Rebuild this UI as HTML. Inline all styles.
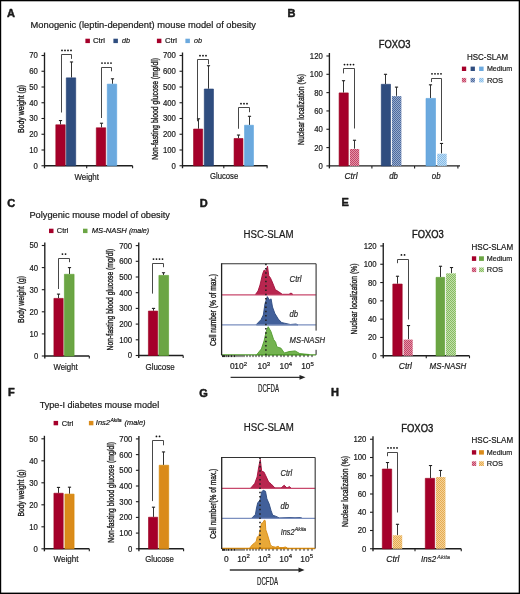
<!DOCTYPE html>
<html><head><meta charset="utf-8"><style>
html,body{margin:0;padding:0;background:#fff;}
#root{position:relative;width:520px;height:594px;overflow:hidden;background:#fff;}
svg text{stroke:#1a1a1a;stroke-width:0.2px;} svg text.vt{stroke-width:0.35px;} svg text.t{stroke-width:0.4px;} svg text.b{stroke-width:0.5px;} svg text.sup{stroke-width:0.1px;}
#frame{position:absolute;left:0;top:0;width:520px;height:594px;box-sizing:border-box;border-top:1px solid #000;border-left:1px solid #000;border-right:2px solid #000;border-bottom:2px solid #000;pointer-events:none;}
</style></head><body><div id="root">
<svg width="520" height="594" viewBox="0 0 520 594" style="position:absolute;left:0;top:0;will-change:transform">
<defs>
<pattern id="pr" width="2" height="2" patternUnits="userSpaceOnUse"><rect width="2" height="2" fill="#e493a8"/><rect width="1" height="1" fill="#c24466"/><rect x="1" y="1" width="1" height="1" fill="#c24466"/></pattern>
<pattern id="pn" width="2" height="2" patternUnits="userSpaceOnUse"><rect width="2" height="2" fill="#98abcc"/><rect width="1" height="1" fill="#4d6a9e"/><rect x="1" y="1" width="1" height="1" fill="#4d6a9e"/></pattern>
<pattern id="pb" width="2" height="2" patternUnits="userSpaceOnUse"><rect width="2" height="2" fill="#c0dcf4"/><rect width="1" height="1" fill="#86bde8"/><rect x="1" y="1" width="1" height="1" fill="#86bde8"/></pattern>
<pattern id="pg" width="2" height="2" patternUnits="userSpaceOnUse"><rect width="2" height="2" fill="#c2e0ac"/><rect width="1" height="1" fill="#88bc62"/><rect x="1" y="1" width="1" height="1" fill="#88bc62"/></pattern>
<pattern id="po" width="2" height="2" patternUnits="userSpaceOnUse"><rect width="2" height="2" fill="#f4d29a"/><rect width="1" height="1" fill="#e6ac50"/><rect x="1" y="1" width="1" height="1" fill="#e6ac50"/></pattern>
</defs>
<g font-family='"Liberation Sans", sans-serif' fill="#1a1a1a" stroke-linejoin="round">
<text x="7" y="17" font-size="11" text-anchor="start" font-weight="bold" class="b">A</text>
<text x="30.5" y="28" font-size="9" text-anchor="start" textLength="225.5" lengthAdjust="spacingAndGlyphs">Monogenic (leptin-dependent) mouse model of obesity</text>
<rect x="85.40" y="38.70" width="4.50" height="4.40" fill="#a5002a"/>
<text x="93" y="43.1" font-size="8" text-anchor="start" textLength="12" lengthAdjust="spacingAndGlyphs">Ctrl</text>
<rect x="113.40" y="38.70" width="4.50" height="4.40" fill="#2f4d7f"/>
<text x="122" y="43.1" font-size="8" text-anchor="start" font-style="italic" textLength="8" lengthAdjust="spacingAndGlyphs">db</text>
<rect x="156.90" y="38.70" width="4.50" height="4.40" fill="#a5002a"/>
<text x="165" y="43.1" font-size="8" text-anchor="start" textLength="12" lengthAdjust="spacingAndGlyphs">Ctrl</text>
<rect x="185.40" y="38.70" width="4.50" height="4.40" fill="#6ba9de"/>
<text x="194" y="43.1" font-size="8" text-anchor="start" font-style="italic" textLength="8" lengthAdjust="spacingAndGlyphs">ob</text>
<line x1="44.5" y1="52.5" x2="44.5" y2="168.25" stroke="#1e1e1e" stroke-width="1.35"/>
<line x1="44.0" y1="165.75" x2="132.6" y2="165.75" stroke="#1e1e1e" stroke-width="1.4"/>
<line x1="86.7" y1="165.75" x2="86.7" y2="168.25" stroke="#1e1e1e" stroke-width="1.1"/>
<line x1="132.6" y1="165.75" x2="132.6" y2="168.25" stroke="#1e1e1e" stroke-width="1.1"/>
<line x1="41.5" y1="165.75" x2="44.5" y2="165.75" stroke="#1e1e1e" stroke-width="1.1"/>
<text x="37.90" y="168.70" font-size="8.4" text-anchor="end" textLength="4.32" lengthAdjust="spacingAndGlyphs">0</text>
<line x1="41.5" y1="150.0" x2="44.5" y2="150.0" stroke="#1e1e1e" stroke-width="1.1"/>
<text x="37.90" y="152.95" font-size="8.4" text-anchor="end" textLength="8.64" lengthAdjust="spacingAndGlyphs">10</text>
<line x1="41.5" y1="134.25" x2="44.5" y2="134.25" stroke="#1e1e1e" stroke-width="1.1"/>
<text x="37.90" y="137.20" font-size="8.4" text-anchor="end" textLength="8.64" lengthAdjust="spacingAndGlyphs">20</text>
<line x1="41.5" y1="118.5" x2="44.5" y2="118.5" stroke="#1e1e1e" stroke-width="1.1"/>
<text x="37.90" y="121.45" font-size="8.4" text-anchor="end" textLength="8.64" lengthAdjust="spacingAndGlyphs">30</text>
<line x1="41.5" y1="102.75" x2="44.5" y2="102.75" stroke="#1e1e1e" stroke-width="1.1"/>
<text x="37.90" y="105.70" font-size="8.4" text-anchor="end" textLength="8.64" lengthAdjust="spacingAndGlyphs">40</text>
<line x1="41.5" y1="87.0" x2="44.5" y2="87.0" stroke="#1e1e1e" stroke-width="1.1"/>
<text x="37.90" y="89.95" font-size="8.4" text-anchor="end" textLength="8.64" lengthAdjust="spacingAndGlyphs">50</text>
<line x1="41.5" y1="71.25" x2="44.5" y2="71.25" stroke="#1e1e1e" stroke-width="1.1"/>
<text x="37.90" y="74.20" font-size="8.4" text-anchor="end" textLength="8.64" lengthAdjust="spacingAndGlyphs">60</text>
<line x1="41.5" y1="55.5" x2="44.5" y2="55.5" stroke="#1e1e1e" stroke-width="1.1"/>
<text x="37.90" y="58.45" font-size="8.4" text-anchor="end" textLength="8.64" lengthAdjust="spacingAndGlyphs">70</text>
<line x1="60.50" y1="120.55" x2="60.50" y2="124.48" stroke="#333" stroke-width="1.0"/>
<line x1="58.90" y1="120.55" x2="62.10" y2="120.55" stroke="#222" stroke-width="1.1"/>
<rect x="55.80" y="124.78" width="9.40" height="40.97" fill="#a5002a" stroke="#98001f" stroke-width="0.6"/>
<line x1="71.50" y1="61.96" x2="71.50" y2="77.55" stroke="#333" stroke-width="1.0"/>
<line x1="69.90" y1="61.96" x2="73.10" y2="61.96" stroke="#222" stroke-width="1.1"/>
<rect x="66.30" y="77.85" width="9.40" height="87.90" fill="#2f4d7f" stroke="#1f3a70" stroke-width="0.6"/>
<line x1="101.50" y1="123.22" x2="101.50" y2="127.48" stroke="#333" stroke-width="1.0"/>
<line x1="99.90" y1="123.22" x2="103.10" y2="123.22" stroke="#222" stroke-width="1.1"/>
<rect x="96.30" y="127.78" width="9.40" height="37.97" fill="#a5002a" stroke="#98001f" stroke-width="0.6"/>
<line x1="112.50" y1="78.81" x2="112.50" y2="83.85" stroke="#333" stroke-width="1.0"/>
<line x1="110.90" y1="78.81" x2="114.10" y2="78.81" stroke="#222" stroke-width="1.1"/>
<rect x="107.30" y="84.15" width="9.40" height="81.60" fill="#6ba9de" stroke="#5aa2de" stroke-width="0.6"/>
<path d="M61.5,112.5 V54.5 H71.5 V58.9" fill="none" stroke="#333" stroke-width="0.9"/>
<circle cx="62.00" cy="50.40" r="0.9" fill="#111"/>
<circle cx="65.00" cy="50.40" r="0.9" fill="#111"/>
<circle cx="68.00" cy="50.40" r="0.9" fill="#111"/>
<circle cx="71.00" cy="50.40" r="0.9" fill="#111"/>
<path d="M101.5,118 V67.5 H111.5 V71.3" fill="none" stroke="#333" stroke-width="0.9"/>
<circle cx="102.00" cy="63.10" r="0.9" fill="#111"/>
<circle cx="105.00" cy="63.10" r="0.9" fill="#111"/>
<circle cx="108.00" cy="63.10" r="0.9" fill="#111"/>
<circle cx="111.00" cy="63.10" r="0.9" fill="#111"/>
<text class="vt" transform="translate(21,109) rotate(-90)" x="0" y="3.24" font-size="9" text-anchor="middle" textLength="48" lengthAdjust="spacingAndGlyphs">Body weight (g)</text>
<text x="86.7" y="179.5" font-size="9" text-anchor="middle" textLength="24.6" lengthAdjust="spacingAndGlyphs">Weight</text>
<line x1="182.5" y1="52.5" x2="182.5" y2="168.25" stroke="#1e1e1e" stroke-width="1.35"/>
<line x1="182.0" y1="165.75" x2="267.5" y2="165.75" stroke="#1e1e1e" stroke-width="1.4"/>
<line x1="223.8" y1="165.75" x2="223.8" y2="168.25" stroke="#1e1e1e" stroke-width="1.1"/>
<line x1="267.1" y1="165.75" x2="267.1" y2="168.25" stroke="#1e1e1e" stroke-width="1.1"/>
<line x1="179.5" y1="165.75" x2="182.5" y2="165.75" stroke="#1e1e1e" stroke-width="1.1"/>
<text x="175.90" y="168.70" font-size="8.4" text-anchor="end" textLength="4.32" lengthAdjust="spacingAndGlyphs">0</text>
<line x1="179.5" y1="150.0" x2="182.5" y2="150.0" stroke="#1e1e1e" stroke-width="1.1"/>
<text x="175.90" y="152.95" font-size="8.4" text-anchor="end" textLength="12.96" lengthAdjust="spacingAndGlyphs">100</text>
<line x1="179.5" y1="134.25" x2="182.5" y2="134.25" stroke="#1e1e1e" stroke-width="1.1"/>
<text x="175.90" y="137.20" font-size="8.4" text-anchor="end" textLength="12.96" lengthAdjust="spacingAndGlyphs">200</text>
<line x1="179.5" y1="118.5" x2="182.5" y2="118.5" stroke="#1e1e1e" stroke-width="1.1"/>
<text x="175.90" y="121.45" font-size="8.4" text-anchor="end" textLength="12.96" lengthAdjust="spacingAndGlyphs">300</text>
<line x1="179.5" y1="102.75" x2="182.5" y2="102.75" stroke="#1e1e1e" stroke-width="1.1"/>
<text x="175.90" y="105.70" font-size="8.4" text-anchor="end" textLength="12.96" lengthAdjust="spacingAndGlyphs">400</text>
<line x1="179.5" y1="87.0" x2="182.5" y2="87.0" stroke="#1e1e1e" stroke-width="1.1"/>
<text x="175.90" y="89.95" font-size="8.4" text-anchor="end" textLength="12.96" lengthAdjust="spacingAndGlyphs">500</text>
<line x1="179.5" y1="71.25" x2="182.5" y2="71.25" stroke="#1e1e1e" stroke-width="1.1"/>
<text x="175.90" y="74.20" font-size="8.4" text-anchor="end" textLength="12.96" lengthAdjust="spacingAndGlyphs">600</text>
<line x1="179.5" y1="55.5" x2="182.5" y2="55.5" stroke="#1e1e1e" stroke-width="1.1"/>
<text x="175.90" y="58.45" font-size="8.4" text-anchor="end" textLength="12.96" lengthAdjust="spacingAndGlyphs">700</text>
<line x1="198.50" y1="118.81" x2="198.50" y2="128.74" stroke="#333" stroke-width="1.0"/>
<line x1="196.90" y1="118.81" x2="200.10" y2="118.81" stroke="#222" stroke-width="1.1"/>
<rect x="193.55" y="129.04" width="9.15" height="36.71" fill="#a5002a" stroke="#98001f" stroke-width="0.6"/>
<line x1="208.50" y1="65.74" x2="208.50" y2="88.73" stroke="#333" stroke-width="1.0"/>
<line x1="206.90" y1="65.74" x2="210.10" y2="65.74" stroke="#222" stroke-width="1.1"/>
<rect x="204.30" y="89.03" width="9.15" height="76.72" fill="#2f4d7f" stroke="#1f3a70" stroke-width="0.6"/>
<line x1="238.50" y1="135.04" x2="238.50" y2="138.19" stroke="#333" stroke-width="1.0"/>
<line x1="236.90" y1="135.04" x2="240.10" y2="135.04" stroke="#222" stroke-width="1.1"/>
<rect x="234.05" y="138.49" width="8.90" height="27.26" fill="#a5002a" stroke="#98001f" stroke-width="0.6"/>
<line x1="249.50" y1="116.30" x2="249.50" y2="124.96" stroke="#333" stroke-width="1.0"/>
<line x1="247.90" y1="116.30" x2="251.10" y2="116.30" stroke="#222" stroke-width="1.1"/>
<rect x="244.55" y="125.26" width="8.90" height="40.49" fill="#6ba9de" stroke="#5aa2de" stroke-width="0.6"/>
<path d="M197.5,121.25 V59.5 H208.5 V64.2" fill="none" stroke="#333" stroke-width="0.9"/>
<circle cx="200.00" cy="55.70" r="0.9" fill="#111"/>
<circle cx="203.00" cy="55.70" r="0.9" fill="#111"/>
<circle cx="206.00" cy="55.70" r="0.9" fill="#111"/>
<path d="M238.5,128.75 V107.5 H249.5 V112.2" fill="none" stroke="#333" stroke-width="0.9"/>
<circle cx="241.00" cy="103.70" r="0.9" fill="#111"/>
<circle cx="244.00" cy="103.70" r="0.9" fill="#111"/>
<circle cx="247.00" cy="103.70" r="0.9" fill="#111"/>
<text class="vt" transform="translate(154.7,108.9) rotate(-90)" x="0" y="3.24" font-size="9" text-anchor="middle" textLength="101.8" lengthAdjust="spacingAndGlyphs">Non-fasting blood glucose (mg/dl)</text>
<text x="224.1" y="178.8" font-size="9" text-anchor="middle" textLength="28.3" lengthAdjust="spacingAndGlyphs">Glucose</text>
<text x="287.5" y="17" font-size="11" text-anchor="start" font-weight="bold" class="b">B</text>
<text x="378.7" y="48" font-size="10" text-anchor="start" textLength="31.7" lengthAdjust="spacingAndGlyphs" class="t">FOXO3</text>
<line x1="329.4" y1="52.980000000000004" x2="329.4" y2="168.4" stroke="#1e1e1e" stroke-width="1.35"/>
<line x1="328.9" y1="165.9" x2="460" y2="165.9" stroke="#1e1e1e" stroke-width="1.4"/>
<line x1="371.9" y1="165.9" x2="371.9" y2="168.4" stroke="#1e1e1e" stroke-width="1.1"/>
<line x1="414.6" y1="165.9" x2="414.6" y2="168.4" stroke="#1e1e1e" stroke-width="1.1"/>
<line x1="457.9" y1="165.9" x2="457.9" y2="168.4" stroke="#1e1e1e" stroke-width="1.1"/>
<line x1="326.4" y1="165.9" x2="329.4" y2="165.9" stroke="#1e1e1e" stroke-width="1.1"/>
<text x="322.80" y="168.85" font-size="8.4" text-anchor="end" textLength="4.32" lengthAdjust="spacingAndGlyphs">0</text>
<line x1="326.4" y1="147.58" x2="329.4" y2="147.58" stroke="#1e1e1e" stroke-width="1.1"/>
<text x="322.80" y="150.53" font-size="8.4" text-anchor="end" textLength="8.64" lengthAdjust="spacingAndGlyphs">20</text>
<line x1="326.4" y1="129.26" x2="329.4" y2="129.26" stroke="#1e1e1e" stroke-width="1.1"/>
<text x="322.80" y="132.21" font-size="8.4" text-anchor="end" textLength="8.64" lengthAdjust="spacingAndGlyphs">40</text>
<line x1="326.4" y1="110.94" x2="329.4" y2="110.94" stroke="#1e1e1e" stroke-width="1.1"/>
<text x="322.80" y="113.89" font-size="8.4" text-anchor="end" textLength="8.64" lengthAdjust="spacingAndGlyphs">60</text>
<line x1="326.4" y1="92.62" x2="329.4" y2="92.62" stroke="#1e1e1e" stroke-width="1.1"/>
<text x="322.80" y="95.57" font-size="8.4" text-anchor="end" textLength="8.64" lengthAdjust="spacingAndGlyphs">80</text>
<line x1="326.4" y1="74.3" x2="329.4" y2="74.3" stroke="#1e1e1e" stroke-width="1.1"/>
<text x="322.80" y="77.25" font-size="8.4" text-anchor="end" textLength="12.96" lengthAdjust="spacingAndGlyphs">100</text>
<line x1="326.4" y1="55.980000000000004" x2="329.4" y2="55.980000000000004" stroke="#1e1e1e" stroke-width="1.1"/>
<text x="322.80" y="58.93" font-size="8.4" text-anchor="end" textLength="12.96" lengthAdjust="spacingAndGlyphs">120</text>
<line x1="343.50" y1="80.71" x2="343.50" y2="92.62" stroke="#333" stroke-width="1.0"/>
<line x1="341.90" y1="80.71" x2="345.10" y2="80.71" stroke="#222" stroke-width="1.1"/>
<rect x="339.10" y="92.92" width="9.20" height="72.98" fill="#a5002a" stroke="#98001f" stroke-width="0.6"/>
<line x1="354.50" y1="140.25" x2="354.50" y2="148.68" stroke="#333" stroke-width="1.0"/>
<line x1="352.90" y1="140.25" x2="356.10" y2="140.25" stroke="#222" stroke-width="1.1"/>
<rect x="349.90" y="148.98" width="9.30" height="16.92" fill="url(#pr)"/>
<line x1="385.50" y1="74.30" x2="385.50" y2="84.01" stroke="#333" stroke-width="1.0"/>
<line x1="383.90" y1="74.30" x2="387.10" y2="74.30" stroke="#222" stroke-width="1.1"/>
<rect x="381.30" y="84.31" width="9.20" height="81.59" fill="#2f4d7f" stroke="#1f3a70" stroke-width="0.6"/>
<line x1="396.50" y1="87.12" x2="396.50" y2="95.83" stroke="#333" stroke-width="1.0"/>
<line x1="394.90" y1="87.12" x2="398.10" y2="87.12" stroke="#222" stroke-width="1.1"/>
<rect x="391.90" y="96.13" width="9.50" height="69.77" fill="url(#pn)"/>
<line x1="430.50" y1="84.83" x2="430.50" y2="98.12" stroke="#333" stroke-width="1.0"/>
<line x1="428.90" y1="84.83" x2="432.10" y2="84.83" stroke="#222" stroke-width="1.1"/>
<rect x="426.00" y="98.42" width="9.50" height="67.48" fill="#6ba9de" stroke="#5aa2de" stroke-width="0.6"/>
<line x1="441.50" y1="143.46" x2="441.50" y2="153.44" stroke="#333" stroke-width="1.0"/>
<line x1="439.90" y1="143.46" x2="443.10" y2="143.46" stroke="#222" stroke-width="1.1"/>
<rect x="437.20" y="153.74" width="9.50" height="12.16" fill="url(#pb)"/>
<path d="M343.5,73.4 V68.5 H354.5 V128.5" fill="none" stroke="#333" stroke-width="0.9"/>
<circle cx="344.50" cy="64.60" r="0.9" fill="#111"/>
<circle cx="347.50" cy="64.60" r="0.9" fill="#111"/>
<circle cx="350.50" cy="64.60" r="0.9" fill="#111"/>
<circle cx="353.50" cy="64.60" r="0.9" fill="#111"/>
<path d="M431.5,82.1 V78.5 H441.5 V141" fill="none" stroke="#333" stroke-width="0.9"/>
<circle cx="432.00" cy="73.80" r="0.9" fill="#111"/>
<circle cx="435.00" cy="73.80" r="0.9" fill="#111"/>
<circle cx="438.00" cy="73.80" r="0.9" fill="#111"/>
<circle cx="441.00" cy="73.80" r="0.9" fill="#111"/>
<text class="vt" transform="translate(300.6,109.5) rotate(-90)" x="0" y="3.24" font-size="9" text-anchor="middle" textLength="71" lengthAdjust="spacingAndGlyphs">Nuclear localization (%)</text>
<text x="351" y="179" font-size="8.5" text-anchor="middle" font-style="italic" textLength="13" lengthAdjust="spacingAndGlyphs">Ctrl</text>
<text x="393.5" y="179" font-size="8.5" text-anchor="middle" font-style="italic" textLength="8.7" lengthAdjust="spacingAndGlyphs">db</text>
<text x="436.2" y="179" font-size="8.5" text-anchor="middle" font-style="italic" textLength="8.7" lengthAdjust="spacingAndGlyphs">ob</text>
<text x="466.9" y="59.75" font-size="8.3" text-anchor="start" textLength="41.2" lengthAdjust="spacingAndGlyphs">HSC-SLAM</text>
<rect x="461.90" y="66.60" width="4.30" height="4.40" fill="#a5002a"/>
<rect x="470.60" y="66.60" width="4.30" height="4.40" fill="#2f4d7f"/>
<rect x="479.10" y="66.60" width="4.50" height="4.40" fill="#6ba9de"/>
<text x="486.9" y="71.25" font-size="7.8" text-anchor="start" textLength="25.3" lengthAdjust="spacingAndGlyphs">Medium</text>
<rect x="461.90" y="77.90" width="4.30" height="4.50" fill="url(#pr)"/>
<rect x="470.60" y="77.90" width="4.30" height="4.50" fill="url(#pn)"/>
<rect x="479.10" y="77.90" width="4.50" height="4.50" fill="url(#pb)"/>
<text x="486.9" y="82.5" font-size="7.8" text-anchor="start" textLength="16.2" lengthAdjust="spacingAndGlyphs">ROS</text>
<text x="7.2" y="206.7" font-size="11" text-anchor="start" font-weight="bold" class="b">C</text>
<text x="29.4" y="218.3" font-size="9" text-anchor="start" textLength="140.6" lengthAdjust="spacingAndGlyphs">Polygenic mouse model of obesity</text>
<rect x="49.00" y="228.70" width="4.50" height="4.40" fill="#a5002a"/>
<text x="56.8" y="232.8" font-size="8" text-anchor="start" textLength="11.6" lengthAdjust="spacingAndGlyphs">Ctrl</text>
<rect x="83.00" y="228.70" width="4.50" height="4.40" fill="#6ba544"/>
<text x="91.7" y="232.6" font-size="7.5" text-anchor="start" font-style="italic" textLength="57.5" lengthAdjust="spacingAndGlyphs">MS-NASH <tspan font-size="7">(male)</tspan></text>
<line x1="44.8" y1="242.5" x2="44.8" y2="358.5" stroke="#1e1e1e" stroke-width="1.35"/>
<line x1="44.3" y1="356" x2="89.3" y2="356" stroke="#1e1e1e" stroke-width="1.4"/>
<line x1="89.3" y1="356" x2="89.3" y2="358.5" stroke="#1e1e1e" stroke-width="1.1"/>
<line x1="41.8" y1="356.0" x2="44.8" y2="356.0" stroke="#1e1e1e" stroke-width="1.1"/>
<text x="38.20" y="358.95" font-size="8.4" text-anchor="end" textLength="4.32" lengthAdjust="spacingAndGlyphs">0</text>
<line x1="41.8" y1="333.9" x2="44.8" y2="333.9" stroke="#1e1e1e" stroke-width="1.1"/>
<text x="38.20" y="336.85" font-size="8.4" text-anchor="end" textLength="8.64" lengthAdjust="spacingAndGlyphs">10</text>
<line x1="41.8" y1="311.8" x2="44.8" y2="311.8" stroke="#1e1e1e" stroke-width="1.1"/>
<text x="38.20" y="314.75" font-size="8.4" text-anchor="end" textLength="8.64" lengthAdjust="spacingAndGlyphs">20</text>
<line x1="41.8" y1="289.7" x2="44.8" y2="289.7" stroke="#1e1e1e" stroke-width="1.1"/>
<text x="38.20" y="292.65" font-size="8.4" text-anchor="end" textLength="8.64" lengthAdjust="spacingAndGlyphs">30</text>
<line x1="41.8" y1="267.6" x2="44.8" y2="267.6" stroke="#1e1e1e" stroke-width="1.1"/>
<text x="38.20" y="270.55" font-size="8.4" text-anchor="end" textLength="8.64" lengthAdjust="spacingAndGlyphs">40</text>
<line x1="41.8" y1="245.5" x2="44.8" y2="245.5" stroke="#1e1e1e" stroke-width="1.1"/>
<text x="38.20" y="248.45" font-size="8.4" text-anchor="end" textLength="8.64" lengthAdjust="spacingAndGlyphs">50</text>
<line x1="58.50" y1="294.12" x2="58.50" y2="298.10" stroke="#333" stroke-width="1.0"/>
<line x1="56.90" y1="294.12" x2="60.10" y2="294.12" stroke="#222" stroke-width="1.1"/>
<rect x="53.90" y="298.40" width="9.30" height="57.60" fill="#a5002a" stroke="#98001f" stroke-width="0.6"/>
<line x1="69.50" y1="267.60" x2="69.50" y2="274.01" stroke="#333" stroke-width="1.0"/>
<line x1="67.90" y1="267.60" x2="71.10" y2="267.60" stroke="#222" stroke-width="1.1"/>
<rect x="64.40" y="274.31" width="9.70" height="81.69" fill="#6ba544" stroke="#5a9d2e" stroke-width="0.6"/>
<path d="M58.5,289 V258.5 H69.5 V262.2" fill="none" stroke="#333" stroke-width="0.9"/>
<circle cx="62.45" cy="254.10" r="0.9" fill="#111"/>
<circle cx="65.55" cy="254.10" r="0.9" fill="#111"/>
<text class="vt" transform="translate(21,299.5) rotate(-90)" x="0" y="3.24" font-size="9" text-anchor="middle" textLength="47" lengthAdjust="spacingAndGlyphs">Body weight (g)</text>
<text x="65.6" y="370" font-size="9" text-anchor="middle" textLength="24.1" lengthAdjust="spacingAndGlyphs">Weight</text>
<line x1="138.75" y1="242.6" x2="138.75" y2="358.0" stroke="#1e1e1e" stroke-width="1.35"/>
<line x1="138.25" y1="355.5" x2="183.2" y2="355.5" stroke="#1e1e1e" stroke-width="1.4"/>
<line x1="183.2" y1="355.5" x2="183.2" y2="358.0" stroke="#1e1e1e" stroke-width="1.1"/>
<line x1="135.75" y1="355.5" x2="138.75" y2="355.5" stroke="#1e1e1e" stroke-width="1.1"/>
<text x="132.15" y="358.45" font-size="8.4" text-anchor="end" textLength="4.32" lengthAdjust="spacingAndGlyphs">0</text>
<line x1="135.75" y1="339.8" x2="138.75" y2="339.8" stroke="#1e1e1e" stroke-width="1.1"/>
<text x="132.15" y="342.75" font-size="8.4" text-anchor="end" textLength="12.96" lengthAdjust="spacingAndGlyphs">100</text>
<line x1="135.75" y1="324.1" x2="138.75" y2="324.1" stroke="#1e1e1e" stroke-width="1.1"/>
<text x="132.15" y="327.05" font-size="8.4" text-anchor="end" textLength="12.96" lengthAdjust="spacingAndGlyphs">200</text>
<line x1="135.75" y1="308.4" x2="138.75" y2="308.4" stroke="#1e1e1e" stroke-width="1.1"/>
<text x="132.15" y="311.35" font-size="8.4" text-anchor="end" textLength="12.96" lengthAdjust="spacingAndGlyphs">300</text>
<line x1="135.75" y1="292.7" x2="138.75" y2="292.7" stroke="#1e1e1e" stroke-width="1.1"/>
<text x="132.15" y="295.65" font-size="8.4" text-anchor="end" textLength="12.96" lengthAdjust="spacingAndGlyphs">400</text>
<line x1="135.75" y1="277.0" x2="138.75" y2="277.0" stroke="#1e1e1e" stroke-width="1.1"/>
<text x="132.15" y="279.95" font-size="8.4" text-anchor="end" textLength="12.96" lengthAdjust="spacingAndGlyphs">500</text>
<line x1="135.75" y1="261.3" x2="138.75" y2="261.3" stroke="#1e1e1e" stroke-width="1.1"/>
<text x="132.15" y="264.25" font-size="8.4" text-anchor="end" textLength="12.96" lengthAdjust="spacingAndGlyphs">600</text>
<line x1="135.75" y1="245.6" x2="138.75" y2="245.6" stroke="#1e1e1e" stroke-width="1.1"/>
<text x="132.15" y="248.55" font-size="8.4" text-anchor="end" textLength="12.96" lengthAdjust="spacingAndGlyphs">700</text>
<line x1="153.50" y1="308.40" x2="153.50" y2="310.75" stroke="#333" stroke-width="1.0"/>
<line x1="151.90" y1="308.40" x2="155.10" y2="308.40" stroke="#222" stroke-width="1.1"/>
<rect x="148.40" y="311.06" width="9.30" height="44.45" fill="#a5002a" stroke="#98001f" stroke-width="0.6"/>
<line x1="163.50" y1="272.76" x2="163.50" y2="275.12" stroke="#333" stroke-width="1.0"/>
<line x1="161.90" y1="272.76" x2="165.10" y2="272.76" stroke="#222" stroke-width="1.1"/>
<rect x="158.90" y="275.42" width="9.70" height="80.08" fill="#6ba544" stroke="#5a9d2e" stroke-width="0.6"/>
<path d="M152.5,293.6 V263.5 H163.5 V267.2" fill="none" stroke="#333" stroke-width="0.9"/>
<circle cx="153.50" cy="259.10" r="0.9" fill="#111"/>
<circle cx="156.50" cy="259.10" r="0.9" fill="#111"/>
<circle cx="159.50" cy="259.10" r="0.9" fill="#111"/>
<circle cx="162.50" cy="259.10" r="0.9" fill="#111"/>
<text class="vt" transform="translate(110,299.6) rotate(-90)" x="0" y="3.24" font-size="9" text-anchor="middle" textLength="101.7" lengthAdjust="spacingAndGlyphs">Non-fasting blood glucose (mg/dl)</text>
<text x="160.1" y="370" font-size="9" text-anchor="middle" textLength="29.3" lengthAdjust="spacingAndGlyphs">Glucose</text>
<text x="8.1" y="396.1" font-size="11" text-anchor="start" font-weight="bold" class="b">F</text>
<text x="39.7" y="407.6" font-size="9" text-anchor="start" textLength="119.5" lengthAdjust="spacingAndGlyphs">Type-I diabetes mouse model</text>
<rect x="53.60" y="420.90" width="4.50" height="4.40" fill="#a5002a"/>
<text x="61.8" y="425.6" font-size="8" text-anchor="start" textLength="11.6" lengthAdjust="spacingAndGlyphs">Ctrl</text>
<rect x="88.90" y="420.90" width="4.50" height="4.40" fill="#da8b1a"/>
<text x="95.8" y="425.4" font-size="7.5" text-anchor="start" font-style="italic">Ins2</text>
<text x="110.5" y="421.5" font-size="5" text-anchor="start" font-style="italic">Akita</text>
<text x="124.6" y="425.4" font-size="7" text-anchor="start" font-style="italic" textLength="21" lengthAdjust="spacingAndGlyphs">(male)</text>
<line x1="44.4" y1="435.79999999999995" x2="44.4" y2="551.3" stroke="#1e1e1e" stroke-width="1.35"/>
<line x1="43.9" y1="548.8" x2="89.3" y2="548.8" stroke="#1e1e1e" stroke-width="1.4"/>
<line x1="89.3" y1="548.8" x2="89.3" y2="551.3" stroke="#1e1e1e" stroke-width="1.1"/>
<line x1="41.4" y1="548.8" x2="44.4" y2="548.8" stroke="#1e1e1e" stroke-width="1.1"/>
<text x="37.80" y="551.75" font-size="8.4" text-anchor="end" textLength="4.32" lengthAdjust="spacingAndGlyphs">0</text>
<line x1="41.4" y1="526.8" x2="44.4" y2="526.8" stroke="#1e1e1e" stroke-width="1.1"/>
<text x="37.80" y="529.75" font-size="8.4" text-anchor="end" textLength="8.64" lengthAdjust="spacingAndGlyphs">10</text>
<line x1="41.4" y1="504.79999999999995" x2="44.4" y2="504.79999999999995" stroke="#1e1e1e" stroke-width="1.1"/>
<text x="37.80" y="507.75" font-size="8.4" text-anchor="end" textLength="8.64" lengthAdjust="spacingAndGlyphs">20</text>
<line x1="41.4" y1="482.79999999999995" x2="44.4" y2="482.79999999999995" stroke="#1e1e1e" stroke-width="1.1"/>
<text x="37.80" y="485.75" font-size="8.4" text-anchor="end" textLength="8.64" lengthAdjust="spacingAndGlyphs">30</text>
<line x1="41.4" y1="460.79999999999995" x2="44.4" y2="460.79999999999995" stroke="#1e1e1e" stroke-width="1.1"/>
<text x="37.80" y="463.75" font-size="8.4" text-anchor="end" textLength="8.64" lengthAdjust="spacingAndGlyphs">40</text>
<line x1="41.4" y1="438.79999999999995" x2="44.4" y2="438.79999999999995" stroke="#1e1e1e" stroke-width="1.1"/>
<text x="37.80" y="441.75" font-size="8.4" text-anchor="end" textLength="8.64" lengthAdjust="spacingAndGlyphs">50</text>
<line x1="58.50" y1="487.42" x2="58.50" y2="492.92" stroke="#333" stroke-width="1.0"/>
<line x1="56.90" y1="487.42" x2="60.10" y2="487.42" stroke="#222" stroke-width="1.1"/>
<rect x="53.90" y="493.22" width="9.30" height="55.58" fill="#a5002a" stroke="#98001f" stroke-width="0.6"/>
<line x1="69.50" y1="487.20" x2="69.50" y2="493.80" stroke="#333" stroke-width="1.0"/>
<line x1="67.90" y1="487.20" x2="71.10" y2="487.20" stroke="#222" stroke-width="1.1"/>
<rect x="64.90" y="494.10" width="9.20" height="54.70" fill="#da8b1a" stroke="#d38700" stroke-width="0.6"/>
<text class="vt" transform="translate(21,493) rotate(-90)" x="0" y="3.24" font-size="9" text-anchor="middle" textLength="47" lengthAdjust="spacingAndGlyphs">Body weight (g)</text>
<text x="66" y="562.2" font-size="9" text-anchor="middle" textLength="24.9" lengthAdjust="spacingAndGlyphs">Weight</text>
<line x1="138.9" y1="435.9" x2="138.9" y2="551.3" stroke="#1e1e1e" stroke-width="1.35"/>
<line x1="138.4" y1="548.8" x2="183.6" y2="548.8" stroke="#1e1e1e" stroke-width="1.4"/>
<line x1="183.6" y1="548.8" x2="183.6" y2="551.3" stroke="#1e1e1e" stroke-width="1.1"/>
<line x1="135.9" y1="548.8" x2="138.9" y2="548.8" stroke="#1e1e1e" stroke-width="1.1"/>
<text x="132.30" y="551.75" font-size="8.4" text-anchor="end" textLength="4.32" lengthAdjust="spacingAndGlyphs">0</text>
<line x1="135.9" y1="533.0999999999999" x2="138.9" y2="533.0999999999999" stroke="#1e1e1e" stroke-width="1.1"/>
<text x="132.30" y="536.05" font-size="8.4" text-anchor="end" textLength="12.96" lengthAdjust="spacingAndGlyphs">100</text>
<line x1="135.9" y1="517.4" x2="138.9" y2="517.4" stroke="#1e1e1e" stroke-width="1.1"/>
<text x="132.30" y="520.35" font-size="8.4" text-anchor="end" textLength="12.96" lengthAdjust="spacingAndGlyphs">200</text>
<line x1="135.9" y1="501.69999999999993" x2="138.9" y2="501.69999999999993" stroke="#1e1e1e" stroke-width="1.1"/>
<text x="132.30" y="504.65" font-size="8.4" text-anchor="end" textLength="12.96" lengthAdjust="spacingAndGlyphs">300</text>
<line x1="135.9" y1="485.99999999999994" x2="138.9" y2="485.99999999999994" stroke="#1e1e1e" stroke-width="1.1"/>
<text x="132.30" y="488.95" font-size="8.4" text-anchor="end" textLength="12.96" lengthAdjust="spacingAndGlyphs">400</text>
<line x1="135.9" y1="470.29999999999995" x2="138.9" y2="470.29999999999995" stroke="#1e1e1e" stroke-width="1.1"/>
<text x="132.30" y="473.25" font-size="8.4" text-anchor="end" textLength="12.96" lengthAdjust="spacingAndGlyphs">500</text>
<line x1="135.9" y1="454.59999999999997" x2="138.9" y2="454.59999999999997" stroke="#1e1e1e" stroke-width="1.1"/>
<text x="132.30" y="457.55" font-size="8.4" text-anchor="end" textLength="12.96" lengthAdjust="spacingAndGlyphs">600</text>
<line x1="135.9" y1="438.9" x2="138.9" y2="438.9" stroke="#1e1e1e" stroke-width="1.1"/>
<text x="132.30" y="441.85" font-size="8.4" text-anchor="end" textLength="12.96" lengthAdjust="spacingAndGlyphs">700</text>
<line x1="153.50" y1="507.19" x2="153.50" y2="516.93" stroke="#333" stroke-width="1.0"/>
<line x1="151.90" y1="507.19" x2="155.10" y2="507.19" stroke="#222" stroke-width="1.1"/>
<rect x="148.50" y="517.23" width="9.20" height="31.57" fill="#a5002a" stroke="#98001f" stroke-width="0.6"/>
<line x1="163.50" y1="451.93" x2="163.50" y2="464.96" stroke="#333" stroke-width="1.0"/>
<line x1="161.90" y1="451.93" x2="165.10" y2="451.93" stroke="#222" stroke-width="1.1"/>
<rect x="159.20" y="465.26" width="9.50" height="83.54" fill="#da8b1a" stroke="#d38700" stroke-width="0.6"/>
<path d="M152.5,501.1 V440.5 H163.5 V445.3" fill="none" stroke="#333" stroke-width="0.9"/>
<circle cx="156.45" cy="436.40" r="0.9" fill="#111"/>
<circle cx="159.55" cy="436.40" r="0.9" fill="#111"/>
<text class="vt" transform="translate(111,492.3) rotate(-90)" x="0" y="3.24" font-size="9" text-anchor="middle" textLength="100.7" lengthAdjust="spacingAndGlyphs">Non-fasting blood glucose (mg/dl)</text>
<text x="159.5" y="562.2" font-size="9" text-anchor="middle" textLength="28.7" lengthAdjust="spacingAndGlyphs">Glucose</text>
<text x="341.4" y="206.4" font-size="11" text-anchor="start" font-weight="bold" class="b">E</text>
<text x="412" y="237.5" font-size="10" text-anchor="start" textLength="31.7" lengthAdjust="spacingAndGlyphs" class="t">FOXO3</text>
<line x1="383.25" y1="242.95" x2="383.25" y2="358.25" stroke="#1e1e1e" stroke-width="1.35"/>
<line x1="382.75" y1="355.75" x2="469.5" y2="355.75" stroke="#1e1e1e" stroke-width="1.4"/>
<line x1="426.25" y1="355.75" x2="426.25" y2="358.25" stroke="#1e1e1e" stroke-width="1.1"/>
<line x1="469.5" y1="355.75" x2="469.5" y2="358.25" stroke="#1e1e1e" stroke-width="1.1"/>
<line x1="380.25" y1="355.75" x2="383.25" y2="355.75" stroke="#1e1e1e" stroke-width="1.1"/>
<text x="376.65" y="358.70" font-size="8.4" text-anchor="end" textLength="4.32" lengthAdjust="spacingAndGlyphs">0</text>
<line x1="380.25" y1="337.45" x2="383.25" y2="337.45" stroke="#1e1e1e" stroke-width="1.1"/>
<text x="376.65" y="340.40" font-size="8.4" text-anchor="end" textLength="8.64" lengthAdjust="spacingAndGlyphs">20</text>
<line x1="380.25" y1="319.15" x2="383.25" y2="319.15" stroke="#1e1e1e" stroke-width="1.1"/>
<text x="376.65" y="322.10" font-size="8.4" text-anchor="end" textLength="8.64" lengthAdjust="spacingAndGlyphs">40</text>
<line x1="380.25" y1="300.85" x2="383.25" y2="300.85" stroke="#1e1e1e" stroke-width="1.1"/>
<text x="376.65" y="303.80" font-size="8.4" text-anchor="end" textLength="8.64" lengthAdjust="spacingAndGlyphs">60</text>
<line x1="380.25" y1="282.55" x2="383.25" y2="282.55" stroke="#1e1e1e" stroke-width="1.1"/>
<text x="376.65" y="285.50" font-size="8.4" text-anchor="end" textLength="8.64" lengthAdjust="spacingAndGlyphs">80</text>
<line x1="380.25" y1="264.25" x2="383.25" y2="264.25" stroke="#1e1e1e" stroke-width="1.1"/>
<text x="376.65" y="267.20" font-size="8.4" text-anchor="end" textLength="12.96" lengthAdjust="spacingAndGlyphs">100</text>
<line x1="380.25" y1="245.95" x2="383.25" y2="245.95" stroke="#1e1e1e" stroke-width="1.1"/>
<text x="376.65" y="248.90" font-size="8.4" text-anchor="end" textLength="12.96" lengthAdjust="spacingAndGlyphs">120</text>
<line x1="397.50" y1="276.24" x2="397.50" y2="283.74" stroke="#333" stroke-width="1.0"/>
<line x1="395.90" y1="276.24" x2="399.10" y2="276.24" stroke="#222" stroke-width="1.1"/>
<rect x="392.80" y="284.04" width="9.40" height="71.71" fill="#a5002a" stroke="#98001f" stroke-width="0.6"/>
<line x1="408.50" y1="325.56" x2="408.50" y2="339.28" stroke="#333" stroke-width="1.0"/>
<line x1="406.90" y1="325.56" x2="410.10" y2="325.56" stroke="#222" stroke-width="1.1"/>
<rect x="403.55" y="339.58" width="9.15" height="16.17" fill="url(#pr)"/>
<line x1="440.50" y1="266.26" x2="440.50" y2="277.06" stroke="#333" stroke-width="1.0"/>
<line x1="438.90" y1="266.26" x2="442.10" y2="266.26" stroke="#222" stroke-width="1.1"/>
<rect x="436.05" y="277.36" width="8.65" height="78.39" fill="#6ba544" stroke="#5a9d2e" stroke-width="0.6"/>
<line x1="451.50" y1="267.54" x2="451.50" y2="273.03" stroke="#333" stroke-width="1.0"/>
<line x1="449.90" y1="267.54" x2="453.10" y2="267.54" stroke="#222" stroke-width="1.1"/>
<rect x="446.05" y="273.33" width="9.90" height="82.42" fill="url(#pg)"/>
<path d="M397.5,263.2 V259.5 H408.5 V319.5" fill="none" stroke="#333" stroke-width="0.9"/>
<circle cx="401.45" cy="254.90" r="0.9" fill="#111"/>
<circle cx="404.55" cy="254.90" r="0.9" fill="#111"/>
<text class="vt" transform="translate(354,299) rotate(-90)" x="0" y="3.24" font-size="9" text-anchor="middle" textLength="71" lengthAdjust="spacingAndGlyphs">Nuclear localization (%)</text>
<text x="405.4" y="369" font-size="8.5" text-anchor="middle" font-style="italic" textLength="13.2" lengthAdjust="spacingAndGlyphs">Ctrl</text>
<text x="447.9" y="369" font-size="8.5" text-anchor="middle" font-style="italic" textLength="36.7" lengthAdjust="spacingAndGlyphs">MS-NASH</text>
<text x="471.5" y="249.6" font-size="8.3" text-anchor="start" textLength="41.6" lengthAdjust="spacingAndGlyphs">HSC-SLAM</text>
<rect x="471.90" y="256.30" width="4.30" height="4.60" fill="#a5002a"/>
<rect x="479.00" y="256.30" width="4.90" height="4.60" fill="#6ba544"/>
<text x="486.8" y="260.9" font-size="7.8" text-anchor="start" textLength="25.4" lengthAdjust="spacingAndGlyphs">Medium</text>
<rect x="471.90" y="267.50" width="4.30" height="4.60" fill="url(#pr)"/>
<rect x="479.00" y="267.50" width="4.90" height="4.60" fill="url(#pg)"/>
<text x="486.8" y="272.1" font-size="7.8" text-anchor="start" textLength="16.1" lengthAdjust="spacingAndGlyphs">ROS</text>
<text x="331.1" y="396.4" font-size="11" text-anchor="start" font-weight="bold" class="b">H</text>
<text x="401.25" y="431.75" font-size="10" text-anchor="start" textLength="32" lengthAdjust="spacingAndGlyphs" class="t">FOXO3</text>
<line x1="373" y1="436.25" x2="373" y2="551.25" stroke="#1e1e1e" stroke-width="1.35"/>
<line x1="372.5" y1="548.75" x2="461.25" y2="548.75" stroke="#1e1e1e" stroke-width="1.4"/>
<line x1="415" y1="548.75" x2="415" y2="551.25" stroke="#1e1e1e" stroke-width="1.1"/>
<line x1="461.25" y1="548.75" x2="461.25" y2="551.25" stroke="#1e1e1e" stroke-width="1.1"/>
<line x1="370" y1="548.75" x2="373" y2="548.75" stroke="#1e1e1e" stroke-width="1.1"/>
<text x="366.40" y="551.70" font-size="8.4" text-anchor="end" textLength="4.32" lengthAdjust="spacingAndGlyphs">0</text>
<line x1="370" y1="530.5" x2="373" y2="530.5" stroke="#1e1e1e" stroke-width="1.1"/>
<text x="366.40" y="533.45" font-size="8.4" text-anchor="end" textLength="8.64" lengthAdjust="spacingAndGlyphs">20</text>
<line x1="370" y1="512.25" x2="373" y2="512.25" stroke="#1e1e1e" stroke-width="1.1"/>
<text x="366.40" y="515.20" font-size="8.4" text-anchor="end" textLength="8.64" lengthAdjust="spacingAndGlyphs">40</text>
<line x1="370" y1="494.0" x2="373" y2="494.0" stroke="#1e1e1e" stroke-width="1.1"/>
<text x="366.40" y="496.95" font-size="8.4" text-anchor="end" textLength="8.64" lengthAdjust="spacingAndGlyphs">60</text>
<line x1="370" y1="475.75" x2="373" y2="475.75" stroke="#1e1e1e" stroke-width="1.1"/>
<text x="366.40" y="478.70" font-size="8.4" text-anchor="end" textLength="8.64" lengthAdjust="spacingAndGlyphs">80</text>
<line x1="370" y1="457.5" x2="373" y2="457.5" stroke="#1e1e1e" stroke-width="1.1"/>
<text x="366.40" y="460.45" font-size="8.4" text-anchor="end" textLength="12.96" lengthAdjust="spacingAndGlyphs">100</text>
<line x1="370" y1="439.25" x2="373" y2="439.25" stroke="#1e1e1e" stroke-width="1.1"/>
<text x="366.40" y="442.20" font-size="8.4" text-anchor="end" textLength="12.96" lengthAdjust="spacingAndGlyphs">120</text>
<line x1="387.50" y1="462.52" x2="387.50" y2="468.72" stroke="#333" stroke-width="1.0"/>
<line x1="385.90" y1="462.52" x2="389.10" y2="462.52" stroke="#222" stroke-width="1.1"/>
<rect x="382.30" y="469.02" width="9.40" height="79.73" fill="#a5002a" stroke="#98001f" stroke-width="0.6"/>
<line x1="397.50" y1="524.29" x2="397.50" y2="534.97" stroke="#333" stroke-width="1.0"/>
<line x1="395.90" y1="524.29" x2="399.10" y2="524.29" stroke="#222" stroke-width="1.1"/>
<rect x="392.80" y="535.27" width="9.40" height="13.48" fill="url(#po)"/>
<line x1="430.50" y1="465.53" x2="430.50" y2="478.03" stroke="#333" stroke-width="1.0"/>
<line x1="428.90" y1="465.53" x2="432.10" y2="465.53" stroke="#222" stroke-width="1.1"/>
<rect x="425.30" y="478.33" width="9.40" height="70.42" fill="#a5002a" stroke="#98001f" stroke-width="0.6"/>
<line x1="440.50" y1="470.46" x2="440.50" y2="476.75" stroke="#333" stroke-width="1.0"/>
<line x1="438.90" y1="470.46" x2="442.10" y2="470.46" stroke="#222" stroke-width="1.1"/>
<rect x="436.05" y="477.05" width="9.40" height="71.70" fill="url(#po)"/>
<path d="M387.5,456.2 V452.5 H397.5 V512.5" fill="none" stroke="#333" stroke-width="0.9"/>
<circle cx="388.00" cy="447.90" r="0.9" fill="#111"/>
<circle cx="391.00" cy="447.90" r="0.9" fill="#111"/>
<circle cx="394.00" cy="447.90" r="0.9" fill="#111"/>
<circle cx="397.00" cy="447.90" r="0.9" fill="#111"/>
<text class="vt" transform="translate(345,491.5) rotate(-90)" x="0" y="3.24" font-size="9" text-anchor="middle" textLength="71" lengthAdjust="spacingAndGlyphs">Nuclear localization (%)</text>
<text x="392.9" y="562" font-size="8.5" text-anchor="middle" font-style="italic" textLength="13.2" lengthAdjust="spacingAndGlyphs">Ctrl</text>
<text x="421.1" y="561.8" font-size="8.5" text-anchor="start" font-style="italic" textLength="15" lengthAdjust="spacingAndGlyphs">Ins2</text>
<text x="437.1" y="558.7" font-size="6.2" text-anchor="start" font-style="italic" textLength="12.9" lengthAdjust="spacingAndGlyphs" class="sup">Akita</text>
<text x="471.5" y="443.2" font-size="8.3" text-anchor="start" textLength="41.6" lengthAdjust="spacingAndGlyphs">HSC-SLAM</text>
<rect x="471.90" y="450.20" width="4.30" height="4.40" fill="#a5002a"/>
<rect x="479.00" y="450.20" width="4.90" height="4.40" fill="#da8b1a"/>
<text x="486.8" y="454.8" font-size="7.8" text-anchor="start" textLength="25.4" lengthAdjust="spacingAndGlyphs">Medium</text>
<rect x="471.90" y="461.30" width="4.30" height="4.70" fill="url(#pr)"/>
<rect x="479.00" y="461.30" width="4.90" height="4.70" fill="url(#po)"/>
<text x="486.8" y="466" font-size="7.8" text-anchor="start" textLength="16.1" lengthAdjust="spacingAndGlyphs">ROS</text>
<text x="199.8" y="206.7" font-size="11" text-anchor="start" font-weight="bold" class="b">D</text>
<text x="243.5" y="237.7" font-size="10" text-anchor="start" textLength="50" lengthAdjust="spacingAndGlyphs">HSC-SLAM</text>
<path d="M255.40,294.50 L255.40,294.50 L258.00,291.00 L260.00,285.00 L262.70,273.50 L264.20,270.00 L265.80,271.20 L267.50,266.20 L268.80,275.80 L270.40,277.80 L272.30,282.00 L275.40,289.70 L278.50,291.60 L282.30,294.30 L289.00,294.30 L291.00,293.00 L293.00,294.50 L293.00,294.50 Z" fill="#b8264f" stroke="#a30f3b" stroke-width="0.9" stroke-linejoin="round"/>
<path d="M256.30,324.90 L256.30,324.50 L261.00,319.70 L263.30,315.00 L265.00,303.50 L267.30,296.60 L269.40,300.00 L271.10,298.90 L272.50,307.00 L274.80,313.30 L278.30,319.10 L281.70,322.60 L284.60,323.20 L290.40,324.50 L296.00,324.00 L298.00,324.90 L298.00,324.90 Z" fill="#42609a" stroke="#2c4a80" stroke-width="0.9" stroke-linejoin="round"/>
<path d="M256.70,354.70 L256.70,354.70 L261.40,348.90 L264.10,340.80 L266.20,331.40 L268.20,326.70 L270.90,331.40 L273.60,339.50 L275.60,342.20 L276.90,346.90 L281.00,348.20 L284.30,353.00 L289.00,351.60 L295.10,350.90 L299.80,353.60 L309.20,354.50 L309.20,354.70 Z" fill="#74b350" stroke="#4e9a2a" stroke-width="0.9" stroke-linejoin="round"/>
<line x1="221.6" y1="294.8" x2="316.1" y2="294.8" stroke="#c8486c" stroke-width="1.3"/>
<line x1="221.6" y1="324.9" x2="316.1" y2="324.9" stroke="#7b8fbf" stroke-width="1.3"/>
<line x1="221.6" y1="354.8" x2="316.1" y2="354.8" stroke="#4e9a2a" stroke-width="1.3"/>
<line x1="221.6" y1="263.75" x2="316.1" y2="263.75" stroke="#333" stroke-width="1.2"/>
<line x1="221.6" y1="263.25" x2="221.6" y2="355.3" stroke="#222" stroke-width="1.3"/>
<line x1="316.1" y1="263.75" x2="316.1" y2="354.8" stroke="#444" stroke-width="1.2"/>
<line x1="222.50" y1="355.1" x2="222.50" y2="357.1" stroke="#111" stroke-width="0.9"/>
<line x1="223.50" y1="355.1" x2="223.50" y2="357.1" stroke="#111" stroke-width="0.9"/>
<line x1="224.50" y1="355.1" x2="224.50" y2="357.1" stroke="#111" stroke-width="0.9"/>
<line x1="226.00" y1="355.1" x2="226.00" y2="357.1" stroke="#111" stroke-width="0.9"/>
<line x1="227.00" y1="355.1" x2="227.00" y2="357.1" stroke="#111" stroke-width="0.9"/>
<line x1="228.50" y1="355.1" x2="228.50" y2="357.1" stroke="#111" stroke-width="0.9"/>
<line x1="230.00" y1="355.1" x2="230.00" y2="357.1" stroke="#111" stroke-width="0.9"/>
<line x1="231.50" y1="355.1" x2="231.50" y2="357.1" stroke="#111" stroke-width="0.9"/>
<line x1="233.00" y1="355.1" x2="233.00" y2="357.1" stroke="#111" stroke-width="0.9"/>
<line x1="234.50" y1="355.1" x2="234.50" y2="357.1" stroke="#111" stroke-width="0.9"/>
<line x1="236.00" y1="355.1" x2="236.00" y2="357.1" stroke="#111" stroke-width="0.9"/>
<line x1="238.00" y1="355.1" x2="238.00" y2="357.1" stroke="#111" stroke-width="0.9"/>
<line x1="240.00" y1="355.1" x2="240.00" y2="357.1" stroke="#111" stroke-width="0.9"/>
<line x1="242.00" y1="355.1" x2="242.00" y2="357.1" stroke="#111" stroke-width="0.9"/>
<line x1="244.00" y1="355.1" x2="244.00" y2="357.1" stroke="#111" stroke-width="0.9"/>
<line x1="247.00" y1="355.1" x2="247.00" y2="357.1" stroke="#111" stroke-width="0.9"/>
<line x1="250.00" y1="355.1" x2="250.00" y2="357.1" stroke="#111" stroke-width="0.9"/>
<line x1="253.00" y1="355.1" x2="253.00" y2="357.1" stroke="#111" stroke-width="0.9"/>
<line x1="256.00" y1="355.1" x2="256.00" y2="357.1" stroke="#111" stroke-width="0.9"/>
<line x1="259.00" y1="355.1" x2="259.00" y2="357.1" stroke="#111" stroke-width="0.9"/>
<line x1="262.00" y1="355.1" x2="262.00" y2="357.1" stroke="#111" stroke-width="0.9"/>
<line x1="266.00" y1="355.1" x2="266.00" y2="357.1" stroke="#111" stroke-width="0.9"/>
<line x1="269.00" y1="355.1" x2="269.00" y2="357.1" stroke="#111" stroke-width="0.9"/>
<line x1="273.00" y1="355.1" x2="273.00" y2="357.1" stroke="#111" stroke-width="0.9"/>
<line x1="277.00" y1="355.1" x2="277.00" y2="357.1" stroke="#111" stroke-width="0.9"/>
<line x1="281.00" y1="355.1" x2="281.00" y2="357.1" stroke="#111" stroke-width="0.9"/>
<line x1="284.00" y1="355.1" x2="284.00" y2="357.1" stroke="#111" stroke-width="0.9"/>
<line x1="288.00" y1="355.1" x2="288.00" y2="357.1" stroke="#111" stroke-width="0.9"/>
<line x1="292.00" y1="355.1" x2="292.00" y2="357.1" stroke="#111" stroke-width="0.9"/>
<line x1="296.00" y1="355.1" x2="296.00" y2="357.1" stroke="#111" stroke-width="0.9"/>
<line x1="300.00" y1="355.1" x2="300.00" y2="357.1" stroke="#111" stroke-width="0.9"/>
<line x1="304.00" y1="355.1" x2="304.00" y2="357.1" stroke="#111" stroke-width="0.9"/>
<line x1="308.00" y1="355.1" x2="308.00" y2="357.1" stroke="#111" stroke-width="0.9"/>
<line x1="312.00" y1="355.1" x2="312.00" y2="357.1" stroke="#111" stroke-width="0.9"/>
<line x1="265.9" y1="263.75" x2="265.9" y2="354.8" stroke="#222" stroke-width="1.6" stroke-dasharray="1.5,2.78"/>
<rect x="312" y="330.6" width="8" height="19.2" fill="#fff"/>
<text x="289.6" y="282.3" font-size="8.5" font-style="italic" fill="#2a2a2a" style="stroke-width:0.2px;stroke:#2a2a2a" textLength="12" lengthAdjust="spacingAndGlyphs">Ctrl</text>
<text x="289.6" y="316.5" font-size="8.5" font-style="italic" fill="#2a2a2a" style="stroke-width:0.2px;stroke:#2a2a2a" textLength="8.5" lengthAdjust="spacingAndGlyphs">db</text>
<text x="289.6" y="343.3" font-size="8.5" font-style="italic" fill="#2a2a2a" style="stroke-width:0.2px;stroke:#2a2a2a" textLength="35.5" lengthAdjust="spacingAndGlyphs">MS-NASH</text>
<text x="230" y="369.2" font-size="8.4">0</text>
<text x="234.3" y="369.2" font-size="8.4">10<tspan font-size="6" dy="-3.3">2</tspan></text>
<text x="257.5" y="369.2" font-size="8.4">10<tspan font-size="6" dy="-3.3">3</tspan></text>
<text x="279.5" y="369.2" font-size="8.4">10<tspan font-size="6" dy="-3.3">4</tspan></text>
<text x="301.2" y="369.2" font-size="8.4">10<tspan font-size="6" dy="-3.3">5</tspan></text>
<line x1="230.6" y1="377.3" x2="300.5" y2="377.3" stroke="#333" stroke-width="1.3"/>
<path d="M305.5,377.3 L299.5,374.90000000000003 L299.5,379.7 Z" fill="#222"/>
<text x="258" y="392" font-size="10" text-anchor="start" textLength="21" lengthAdjust="spacingAndGlyphs" fill="#222">DCFDA</text>
<text class="vt" transform="translate(213.2,310) rotate(-90)" x="0" y="3.24" font-size="9" text-anchor="middle" textLength="72" lengthAdjust="spacingAndGlyphs">Cell number (% of max.)</text>
<text x="199.2" y="396.8" font-size="11" text-anchor="start" font-weight="bold" class="b">G</text>
<text x="243.75" y="431.25" font-size="10" text-anchor="start" textLength="50" lengthAdjust="spacingAndGlyphs">HSC-SLAM</text>
<path d="M250.80,488.20 L250.80,488.00 L254.80,483.30 L257.10,476.90 L258.80,466.50 L260.30,459.40 L261.70,471.20 L264.00,472.10 L265.80,475.80 L268.70,482.10 L271.00,483.80 L275.00,488.00 L281.00,488.00 L284.20,485.20 L287.00,488.00 L289.40,486.60 L291.00,488.00 L291.00,488.20 Z" fill="#b8264f" stroke="#a30f3b" stroke-width="0.9" stroke-linejoin="round"/>
<path d="M251.90,518.30 L251.90,518.00 L255.40,514.40 L256.50,508.00 L257.70,502.90 L260.00,500.00 L261.70,491.90 L263.20,490.20 L265.50,491.30 L266.90,498.80 L269.20,504.00 L271.00,510.40 L272.70,515.20 L275.60,516.20 L279.60,518.00 L290.00,517.50 L295.00,517.80 L300.00,517.50 L302.00,518.20 L302.00,518.30 Z" fill="#42609a" stroke="#2c4a80" stroke-width="0.9" stroke-linejoin="round"/>
<path d="M250.00,548.30 L250.00,547.70 L252.30,544.80 L254.60,542.90 L256.20,541.40 L257.30,536.80 L258.80,536.80 L260.40,528.30 L261.50,523.30 L263.10,522.50 L264.20,520.20 L265.20,520.60 L265.80,529.80 L267.30,534.10 L268.80,539.10 L270.40,544.50 L271.90,546.40 L275.80,547.20 L278.10,546.20 L279.60,547.50 L283.00,547.60 L285.40,547.00 L287.00,547.70 L287.00,548.30 Z" fill="#e8a838" stroke="#d88a10" stroke-width="0.9" stroke-linejoin="round"/>
<line x1="221.7" y1="488.3" x2="315.2" y2="488.3" stroke="#c8486c" stroke-width="1.3"/>
<line x1="221.7" y1="518.3" x2="315.2" y2="518.3" stroke="#7b8fbf" stroke-width="1.3"/>
<line x1="221.7" y1="548.5" x2="315.2" y2="548.5" stroke="#d88a10" stroke-width="1.3"/>
<line x1="221.7" y1="457.5" x2="315.2" y2="457.5" stroke="#333" stroke-width="1.2"/>
<line x1="221.7" y1="457.0" x2="221.7" y2="549.0" stroke="#222" stroke-width="1.3"/>
<line x1="315.2" y1="457.5" x2="315.2" y2="548.5" stroke="#444" stroke-width="1.2"/>
<line x1="222.50" y1="548.8" x2="222.50" y2="550.8" stroke="#111" stroke-width="0.9"/>
<line x1="223.50" y1="548.8" x2="223.50" y2="550.8" stroke="#111" stroke-width="0.9"/>
<line x1="224.50" y1="548.8" x2="224.50" y2="550.8" stroke="#111" stroke-width="0.9"/>
<line x1="226.00" y1="548.8" x2="226.00" y2="550.8" stroke="#111" stroke-width="0.9"/>
<line x1="227.00" y1="548.8" x2="227.00" y2="550.8" stroke="#111" stroke-width="0.9"/>
<line x1="228.50" y1="548.8" x2="228.50" y2="550.8" stroke="#111" stroke-width="0.9"/>
<line x1="230.00" y1="548.8" x2="230.00" y2="550.8" stroke="#111" stroke-width="0.9"/>
<line x1="231.50" y1="548.8" x2="231.50" y2="550.8" stroke="#111" stroke-width="0.9"/>
<line x1="233.00" y1="548.8" x2="233.00" y2="550.8" stroke="#111" stroke-width="0.9"/>
<line x1="234.50" y1="548.8" x2="234.50" y2="550.8" stroke="#111" stroke-width="0.9"/>
<line x1="236.00" y1="548.8" x2="236.00" y2="550.8" stroke="#111" stroke-width="0.9"/>
<line x1="238.00" y1="548.8" x2="238.00" y2="550.8" stroke="#111" stroke-width="0.9"/>
<line x1="240.00" y1="548.8" x2="240.00" y2="550.8" stroke="#111" stroke-width="0.9"/>
<line x1="242.00" y1="548.8" x2="242.00" y2="550.8" stroke="#111" stroke-width="0.9"/>
<line x1="244.00" y1="548.8" x2="244.00" y2="550.8" stroke="#111" stroke-width="0.9"/>
<line x1="247.00" y1="548.8" x2="247.00" y2="550.8" stroke="#111" stroke-width="0.9"/>
<line x1="250.00" y1="548.8" x2="250.00" y2="550.8" stroke="#111" stroke-width="0.9"/>
<line x1="253.00" y1="548.8" x2="253.00" y2="550.8" stroke="#111" stroke-width="0.9"/>
<line x1="256.00" y1="548.8" x2="256.00" y2="550.8" stroke="#111" stroke-width="0.9"/>
<line x1="259.00" y1="548.8" x2="259.00" y2="550.8" stroke="#111" stroke-width="0.9"/>
<line x1="262.00" y1="548.8" x2="262.00" y2="550.8" stroke="#111" stroke-width="0.9"/>
<line x1="266.00" y1="548.8" x2="266.00" y2="550.8" stroke="#111" stroke-width="0.9"/>
<line x1="269.00" y1="548.8" x2="269.00" y2="550.8" stroke="#111" stroke-width="0.9"/>
<line x1="273.00" y1="548.8" x2="273.00" y2="550.8" stroke="#111" stroke-width="0.9"/>
<line x1="277.00" y1="548.8" x2="277.00" y2="550.8" stroke="#111" stroke-width="0.9"/>
<line x1="281.00" y1="548.8" x2="281.00" y2="550.8" stroke="#111" stroke-width="0.9"/>
<line x1="284.00" y1="548.8" x2="284.00" y2="550.8" stroke="#111" stroke-width="0.9"/>
<line x1="288.00" y1="548.8" x2="288.00" y2="550.8" stroke="#111" stroke-width="0.9"/>
<line x1="292.00" y1="548.8" x2="292.00" y2="550.8" stroke="#111" stroke-width="0.9"/>
<line x1="296.00" y1="548.8" x2="296.00" y2="550.8" stroke="#111" stroke-width="0.9"/>
<line x1="300.00" y1="548.8" x2="300.00" y2="550.8" stroke="#111" stroke-width="0.9"/>
<line x1="304.00" y1="548.8" x2="304.00" y2="550.8" stroke="#111" stroke-width="0.9"/>
<line x1="308.00" y1="548.8" x2="308.00" y2="550.8" stroke="#111" stroke-width="0.9"/>
<line x1="312.00" y1="548.8" x2="312.00" y2="550.8" stroke="#111" stroke-width="0.9"/>
<line x1="260" y1="457.5" x2="260" y2="548.5" stroke="#222" stroke-width="1.6" stroke-dasharray="1.5,2.78"/>
<text x="280.6" y="475.8" font-size="8.5" font-style="italic" fill="#2a2a2a" style="stroke-width:0.2px;stroke:#2a2a2a" textLength="11.6" lengthAdjust="spacingAndGlyphs">Ctrl</text>
<text x="280.4" y="509.4" font-size="8.5" font-style="italic" fill="#2a2a2a" style="stroke-width:0.2px;stroke:#2a2a2a" textLength="8.5" lengthAdjust="spacingAndGlyphs">db</text>
<text x="280.7" y="534.5" font-size="8.5" font-style="italic" fill="#2a2a2a" style="stroke-width:0.2px;stroke:#2a2a2a" textLength="13.8" lengthAdjust="spacingAndGlyphs">Ins2</text>
<text x="294.8" y="531" font-size="6" font-style="italic" fill="#2a2a2a" style="stroke-width:0.2px;stroke:#2a2a2a" class="sup" textLength="11.4" lengthAdjust="spacingAndGlyphs">Akita</text>
<text x="224" y="561.7" font-size="8.4">0</text>
<text x="237.2" y="561.7" font-size="8.4">10<tspan font-size="6" dy="-3.3">2</tspan></text>
<text x="258" y="561.7" font-size="8.4">10<tspan font-size="6" dy="-3.3">3</tspan></text>
<text x="279.3" y="561.7" font-size="8.4">10<tspan font-size="6" dy="-3.3">4</tspan></text>
<text x="300.3" y="561.7" font-size="8.4">10<tspan font-size="6" dy="-3.3">5</tspan></text>
<line x1="229.8" y1="570" x2="299.5" y2="570" stroke="#333" stroke-width="1.3"/>
<path d="M304.5,570 L298.5,567.6 L298.5,572.4 Z" fill="#222"/>
<text x="257" y="584.5" font-size="10" text-anchor="start" textLength="21" lengthAdjust="spacingAndGlyphs" fill="#222">DCFDA</text>
<text class="vt" transform="translate(212.6,503.7) rotate(-90)" x="0" y="3.24" font-size="9" text-anchor="middle" textLength="70" lengthAdjust="spacingAndGlyphs">Cell number(% of max.)</text>
</g>
<rect x="0" y="0" width="520" height="1.3" fill="#000"/>
<rect x="0" y="0" width="1.2" height="594" fill="#000"/>
<rect x="518.7" y="0" width="1.3" height="594" fill="#000"/>
<rect x="0" y="592.6" width="520" height="1.4" fill="#000"/>
</svg>

</div></body></html>
